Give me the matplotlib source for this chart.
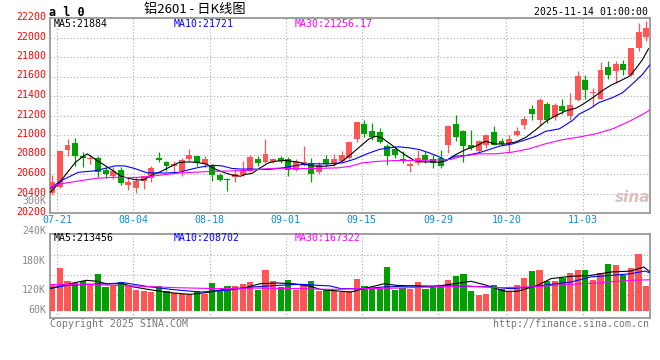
import matplotlib
matplotlib.use("Agg")
import matplotlib.pyplot as plt
from matplotlib.transforms import ScaledTranslation
import numpy as np

W, H = 660, 360

# ---- 日K数据 (07-21 ~ 11-14) ----
opens = [20410, 20470, 20843, 20917, 20785, 20750, 20767, 20643, 20583, 20640,
         20483, 20457, 20533, 20557, 20760, 20723, 20680, 20633, 20757, 20783,
         20700, 20683, 20590, 20550, 20567, 20590, 20630, 20749, 20721, 20728,
         20766, 20749, 20646, 20697, 20708, 20619, 20749, 20708, 20738, 20766,
         20961, 21108, 21039, 21032, 20892, 20858, 20755, 20680, 20714, 20793,
         20755, 20766, 20895, 21115, 21044, 20895, 20834, 20895, 21030, 20942,
         20919, 20997, 21098, 21268, 21149, 21319, 21181, 21293, 21198, 21357,
         21559, 21428, 21367, 21697, 21660, 21731, 21620, 21896, 22001]
highs = [20590, 20850, 20957, 20973, 20825, 20800, 20780, 20673, 20667, 20673,
         20567, 20567, 20583, 20683, 20827, 20733, 20733, 20767, 20860, 20800,
         20783, 20700, 20610, 20555, 20650, 20733, 20800, 20783, 20954, 20766,
         20783, 20776, 20755, 20892, 20766, 20721, 20790, 20810, 20834, 20930,
         21135, 21152, 21118, 21073, 20909, 20885, 20834, 20721, 20844, 20834,
         20790, 20844, 21100, 21207, 21054, 21054, 20952, 21010, 21088, 20970,
         21003, 21078, 21190, 21308, 21376, 21342, 21333, 21367, 21434, 21660,
         21620, 21485, 21745, 21755, 21755, 21772, 21896, 22150, 22170]
lows = [20383, 20460, 20783, 20683, 20670, 20707, 20567, 20557, 20550, 20483,
        20433, 20410, 20443, 20517, 20723, 20633, 20617, 20583, 20733, 20683,
        20667, 20533, 20530, 20425, 20517, 20577, 20620, 20680, 20714, 20714,
        20714, 20577, 20629, 20680, 20516, 20595, 20680, 20680, 20721, 20755,
        20926, 20981, 20947, 20920, 20697, 20766, 20714, 20619, 20697, 20714,
        20663, 20663, 20817, 20942, 20722, 20851, 20817, 20868, 20895, 20895,
        20827, 20986, 21064, 21149, 21105, 21122, 21154, 21215, 21154, 21350,
        21367, 21289, 21367, 21576, 21536, 21620, 21603, 21863, 21967]
closes = [20517, 20840, 20900, 20783, 20760, 20760, 20617, 20600, 20633, 20510,
          20523, 20533, 20577, 20657, 20747, 20683, 20700, 20740, 20793, 20717,
          20750, 20590, 20540, 20535, 20600, 20633, 20773, 20714, 20810, 20755,
          20738, 20639, 20724, 20721, 20601, 20697, 20704, 20749, 20790, 20926,
          21132, 21015, 20981, 20930, 20783, 20790, 20742, 20704, 20766, 20742,
          20714, 20680, 21095, 20976, 20885, 20868, 20942, 20997, 20902, 20908,
          20959, 21044, 21166, 21217, 21359, 21156, 21306, 21242, 21306, 21610,
          21461, 21444, 21670, 21620, 21728, 21664, 21890, 22058, 22102]
# 成交量 (千手)
volumes = [135, 227, 157, 150, 157, 144, 194, 127, 132, 153,
           132, 109, 106, 100, 132, 104, 95, 88, 92, 104,
           88, 148, 106, 130, 130, 144, 153, 113, 215, 157,
           127, 162, 109, 135, 157, 104, 118, 104, 100, 104,
           167, 132, 114, 114, 232, 109, 123, 114, 151, 118,
           134, 127, 162, 183, 194, 104, 83, 88, 136, 118,
           100, 136, 174, 209, 215, 160, 157, 174, 202, 215,
           215, 162, 200, 248, 241, 192, 227, 299, 130]

date_labels = ["07-21", "08-04", "08-18", "09-01", "09-15", "09-29", "10-20", "11-03"]
date_pos = [0, 10, 20, 30, 40, 50, 59, 69]

# 均线 (位置, 数值)
ma5_x = [-0.3, 0, 1, 2, 3, 4, 4.6, 6, 7, 8, 9, 10, 11, 12, 13.1, 14.2, 15.3, 16.6,
         17.5, 18.3, 19.2, 20.3, 21.4, 22.5, 23.6, 24.7, 25.4, 26.2, 27.3, 28.4,
         29.3, 30.6, 32.4, 33.3, 34.6, 35.9, 37, 38.1, 39.2, 40.5, 41.6, 42.5,
         43.3, 44.5, 45.7, 46.6, 47.5, 48.6, 49.7, 50.8, 51.7, 52.3, 53, 54.3,
         55.6, 56.9, 58.2, 59.6, 60.9, 62.2, 63.5, 64.8, 66.1, 67.5, 68.8, 69.7,
         71, 72.3, 73.4, 74.5, 75.8, 76.7, 77.5, 78.3]
ma5_y = [20410, 20433, 20517, 20617, 20717, 20777, 20807, 20733, 20683, 20633,
         20577, 20557, 20540, 20540, 20590, 20623, 20667, 20717, 20723, 20723,
         20717, 20700, 20650, 20617, 20590, 20577, 20597, 20605, 20663, 20714,
         20731, 20738, 20721, 20697, 20680, 20680, 20690, 20731, 20800, 20887,
         20960, 20988, 20970, 20902, 20830, 20783, 20740, 20724, 20724, 20721,
         20735, 20766, 20800, 20851, 20885, 20936, 20908, 20908, 20929, 20976,
         21054, 21139, 21198, 21249, 21276, 21316, 21384, 21458, 21512, 21552,
         21603, 21687, 21772, 21884]
ma10_x = [-0.3, 1.2, 3.4, 5.6, 6.9, 8.2, 9.5, 10.8, 12.4, 14.8, 16.6, 17.9, 19.2,
          21, 22.3, 23.6, 24.9, 26, 28, 29.7, 31.5, 32.8, 34.1, 36.3, 38.1, 39.8,
          41.1, 42.9, 44.2, 45.5, 46.9, 48.2, 49.5, 50.8, 51.7, 53, 54.3, 56,
          57.4, 58.7, 60.4, 62.2, 63.5, 64.8, 66.6, 68.3, 69.2, 70.5, 71.8, 73.6,
          74.9, 76.2, 77.5, 78.5]
ma10_y = [20450, 20533, 20617, 20633, 20657, 20683, 20683, 20657, 20613, 20610,
          20617, 20643, 20667, 20690, 20683, 20657, 20650, 20652, 20646, 20656,
          20680, 20697, 20704, 20704, 20714, 20755, 20800, 20851, 20868, 20879,
          20868, 20851, 20817, 20776, 20740, 20783, 20790, 20817, 20851, 20885,
          20908, 20952, 20986, 21038, 21063, 21148, 21215, 21266, 21333, 21384,
          21434, 21525, 21620, 21721]
ma30_x = [-0.3, 1.2, 3.8, 6, 8.2, 10.4, 12.4, 16.6, 21, 25.3, 28, 29.7, 31.9, 34.1,
          37.6, 39.2, 40.7, 42.9, 45.1, 47.3, 49.9, 52.3, 53.9, 56, 58.2, 60.4,
          62.6, 64.8, 67, 69.2, 71.4, 73.6, 75.8, 77.6, 78.5]
ma30_y = [20467, 20500, 20533, 20557, 20567, 20562, 20572, 20610, 20627, 20635,
          20653, 20660, 20655, 20656, 20663, 20680, 20714, 20731, 20738, 20738,
          20742, 20749, 20783, 20807, 20807, 20824, 20858, 20910, 20952, 20979,
          21013, 21063, 21141, 21215, 21256]

vma5_x = [-0.3, 1.2, 3, 4.5, 5.8, 7.1, 9.3, 10.7, 12, 14.2, 15.9, 18.1, 20.3, 22.9,
          25.1, 27.3, 29.5, 31.7, 33.9, 35.2, 36.5, 39.2, 40.9, 43.6, 45.3, 47.9,
          49.7, 52.3, 55, 57.1, 59.4, 61.1, 63.7, 65.5, 68.1, 70.7, 73.4, 76,
          77.7, 78.5]
vma5_y = [118, 132, 150, 162, 157, 144, 144, 127, 118, 104, 95, 88, 97, 118, 121,
          144, 148, 144, 130, 114, 109, 100, 118, 144, 135, 132, 127, 141, 157,
          135, 104, 104, 135, 171, 183, 188, 206, 211, 232, 206]
vma10_x = [-0.3, 1.9, 4.5, 7.6, 9.3, 10.7, 12.9, 15.9, 19.4, 22.9, 26.4, 29.5, 32.6,
           35.2, 36.5, 37.9, 40.9, 43.6, 47.1, 49.7, 52.3, 55, 57.6, 60.2, 62.9,
           65.5, 68.1, 70.7, 73.4, 76, 77.8, 78.5]
vma10_y = [121, 135, 141, 144, 150, 141, 127, 113, 100, 109, 127, 135, 141, 135,
           132, 118, 118, 127, 132, 132, 132, 130, 127, 118, 127, 141, 153, 180,
           188, 197, 211, 202]
vma30_x = [-0.3, 4.1, 10.7, 16.4, 21.6, 26.4, 32.6, 36.5, 40.9, 45.3, 49.7, 54.1,
           58.5, 62.9, 67.2, 71.6, 76, 78.5]
vma30_y = [139, 141, 132, 123, 118, 121, 118, 114, 118, 121, 127, 132, 123, 127,
           139, 148, 162, 165]

RED = "#ff5555"
GREEN = "#00a000"
GRID = "#aaaaaa"
FRAME = "#999999"
MAG = "#ff00ff"
BLUE = "#0000ff"
DATE_C = "#1288d8"

plt.rcParams["font.family"] = ["DejaVu Sans Mono"]

fig = plt.figure(figsize=(W / 100, H / 100), dpi=100)
fig.patch.set_facecolor("white")


def fx(px):
    return px / W


def fy(py):
    return 1 - py / H


ax = fig.add_axes([fx(50), fy(213), 600 / W, 195 / H])
axv = fig.add_axes([fx(50), fy(318), 600 / W, 84 / H])

idx = np.arange(len(closes))
o = np.array(opens)
c = np.array(closes)
up = c >= o
cols = np.where(up, RED, GREEN)

# K线
ax.vlines(idx, lows, highs, colors=cols, linewidth=0.9, zorder=2)
body_bottom = np.minimum(o, c)
body_h = np.maximum(np.abs(c - o), 12)
ax.bar(idx, body_h, 0.78, bottom=body_bottom, color=cols, linewidth=0, zorder=3)

ax.plot(ma5_x, ma5_y, color="black", lw=0.8, zorder=4)
ax.plot(ma10_x, ma10_y, color=BLUE, lw=0.8, zorder=4)
ax.plot(ma30_x, ma30_y, color=MAG, lw=0.8, zorder=4)

ax.set_xlim(-0.3, 78.5)
ax.set_ylim(20200, 22200)
grid_x = [p + 0.65 for p in date_pos]
ax.set_xticks(grid_x)
ax.set_xticklabels(date_labels)
ax.set_yticks(np.arange(20200, 22201, 200))
ax.set_yticklabels([str(v) for v in range(20200, 22201, 200)])
ax.tick_params(axis="x", length=0, labelcolor=DATE_C, labelsize=7.1, pad=1.5)
ax.tick_params(axis="y", length=0, labelcolor="#ff0000", labelsize=7.1, pad=3)
ax.grid(True, color=GRID, linestyle=(0, (1, 2)), linewidth=0.8, zorder=0)
lift = ScaledTranslation(0, 0.02, fig.dpi_scale_trans)
for lab in ax.get_yticklabels():
    lab.set_transform(lab.get_transform() + lift)

# 成交量
axv.bar(idx, volumes, 0.82, color=cols, linewidth=0, zorder=3)
axv.plot(vma5_x, vma5_y, color="black", lw=0.8, zorder=4)
axv.plot(vma10_x, vma10_y, color=BLUE, lw=0.8, zorder=4)
axv.plot(vma30_x, vma30_y, color=MAG, lw=0.8, zorder=4)
axv.set_xlim(-0.3, 78.5)
axv.set_ylim(-37, 406.6)
axv.set_xticks(grid_x)
axv.set_xticklabels([])
axv.set_yticks([84.5, 190, 295.7])
axv.set_yticklabels([])
axv.tick_params(length=0)
axv.grid(True, color=GRID, linestyle=(0, (1, 2)), linewidth=0.8, zorder=0)

for a in (ax, axv):
    for s in a.spines.values():
        s.set_color(FRAME)
        s.set_linewidth(1.3)

# 文字
fs = 7.1
fig.text(fx(49), fy(12), "a l 0", fontsize=8.5, fontweight="bold", va="center", ha="left")
fig.text(fx(195), fy(10), "铝2601 - 日K线图", fontsize=9.5, va="center", ha="center",
         family=["Noto Sans CJK SC", "DejaVu Sans"])
fig.text(fx(648), fy(12), "2025-11-14 01:00:00", fontsize=fs, va="center", ha="right")

fig.text(fx(54), fy(24), "MA5:21884", fontsize=fs, color="black", va="center")
fig.text(fx(174), fy(24), "MA10:21721", fontsize=fs, color=BLUE, va="center")
fig.text(fx(295), fy(24), "MA30:21256.17", fontsize=fs, color=MAG, va="center")

fig.text(fx(54), fy(238), "MA5:213456", fontsize=fs, color="black", va="center")
fig.text(fx(174), fy(238), "MA10:208702", fontsize=fs, color=BLUE, va="center")
fig.text(fx(295), fy(238), "MA30:167322", fontsize=fs, color=MAG, va="center")

for lab, py in [("300K", 201.5), ("240K", 231), ("180K", 261), ("120K", 290), ("60K", 310)]:
    fig.text(fx(46), fy(py), lab, fontsize=fs, color="#888888", va="center", ha="right")

fig.text(fx(50), fy(324), "Copyright 2025 SINA.COM", fontsize=fs, color="#777777", va="center")
fig.text(fx(649), fy(324), "http://finance.sina.com.cn", fontsize=fs, color="#777777",
         va="center", ha="right")

fig.text(fx(633), fy(197), "sina", fontsize=11, fontweight="bold", style="italic",
         color="#dcc0c0", va="center", ha="center", family=["DejaVu Sans"])

fig.savefig("out.png", dpi=100, facecolor="white")
